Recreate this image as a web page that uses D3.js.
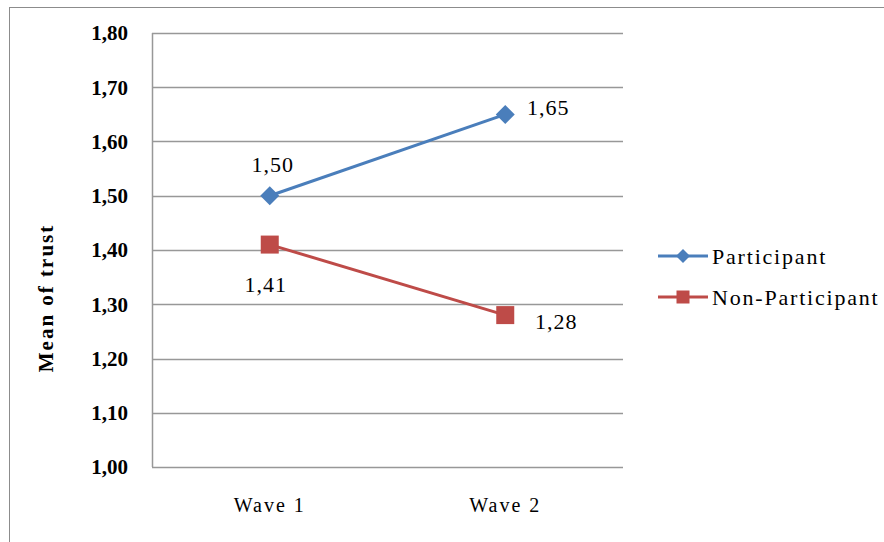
<!DOCTYPE html>
<html>
<head>
<meta charset="utf-8">
<script src="https://cdn.jsdelivr.net/npm/d3@7"></script>
<style>
  body { margin: 0; background: #fff; }
  svg { display: block; font-family: "Liberation Serif", "DejaVu Serif", serif; }
</style>
</head>
<body>
<svg id="chart" width="884" height="542"></svg>
<script>
const waves = ["Wave 1", "Wave 2"];
const participant = [1.50, 1.65];
const nonParticipant = [1.41, 1.28];
const yTicks = [1.0, 1.1, 1.2, 1.3, 1.4, 1.5, 1.6, 1.7, 1.8];

const series = [
  { name: "Participant", values: participant, color: "#4a7ebb", shape: "diamond" },
  { name: "Non-Participant", values: nonParticipant, color: "#be4b48", shape: "square" },
];

const svg = d3.select("#chart");
const fmt = (v) => d3.format(".2f")(v).replace(".", ",");

// outer frame
svg.append("rect")
  .attr("x", 9.5).attr("y", 7.5)
  .attr("width", 900).attr("height", 600)
  .attr("fill", "#fff")
  .attr("stroke", "#8c8c8c")
  .attr("stroke-width", 1);

const plot = { left: 152, right: 623, top: 33, bottom: 467 };

const x = d3.scaleBand().domain(waves).range([plot.left, plot.right]);
const y = d3.scaleLinear().domain([1.0, 1.8]).range([plot.bottom, plot.top]);

// gridlines
svg.append("g")
  .selectAll("line")
  .data(yTicks)
  .join("line")
  .attr("x1", plot.left).attr("x2", plot.right)
  .attr("y1", (d) => Math.round(y(d)) + 0.5)
  .attr("y2", (d) => Math.round(y(d)) + 0.5)
  .attr("stroke", "#989898")
  .attr("stroke-width", 1.5);

// y axis line
svg.append("line")
  .attr("x1", plot.left + 0.5).attr("x2", plot.left + 0.5)
  .attr("y1", plot.top).attr("y2", plot.bottom)
  .attr("stroke", "#989898")
  .attr("stroke-width", 1.5);

// y tick labels
svg.append("g")
  .selectAll("text")
  .data(yTicks)
  .join("text")
  .attr("x", 128)
  .attr("y", (d) => y(d))
  .attr("dy", "0.35em")
  .attr("text-anchor", "end")
  .attr("font-size", "21px")
  .attr("font-weight", "bold")
  .attr("fill", "#000")
  .text(fmt);

// x labels
svg.append("g")
  .selectAll("text")
  .data(waves)
  .join("text")
  .attr("x", (d) => x(d) + x.bandwidth() / 2)
  .attr("y", 505)
  .attr("dy", "0.35em")
  .attr("text-anchor", "middle")
  .attr("font-size", "20px")
  .attr("letter-spacing", "2px")
  .attr("fill", "#000")
  .text((d) => d);

// y axis title
svg.append("text")
  .attr("transform", "translate(46,298) rotate(-90)")
  .attr("text-anchor", "middle")
  .attr("dy", "0.35em")
  .attr("font-size", "21px")
  .attr("font-weight", "bold")
  .attr("letter-spacing", "2px")
  .text("Mean of trust");

const cx = (i) => x(waves[i]) + x.bandwidth() / 2;
const line = d3.line().x((d, i) => cx(i)).y((d) => y(d));

function marker(sel, shape, color, size) {
  if (shape === "diamond") {
    sel.append("path")
      .attr("d", `M0,${-size}L${size},0L0,${size}L${-size},0Z`)
      .attr("fill", color);
  } else {
    sel.append("rect")
      .attr("x", -size).attr("y", -size)
      .attr("width", size * 2).attr("height", size * 2)
      .attr("fill", color);
  }
}

series.forEach((s) => {
  svg.append("path")
    .datum(s.values)
    .attr("d", line)
    .attr("fill", "none")
    .attr("stroke", s.color)
    .attr("stroke-width", 3);
  s.values.forEach((v, i) => {
    const g = svg.append("g").attr("transform", `translate(${cx(i)},${y(v)})`);
    marker(g, s.shape, s.color, s.shape === "diamond" ? 9.5 : 9);
  });
});

// data labels
const labelOffsets = [
  [[3, -31], [43, -7]],
  [[-4, 40], [51, 6]],
];
series.forEach((s, si) => {
  svg.append("g")
    .selectAll("text")
    .data(s.values)
    .join("text")
    .attr("x", (d, i) => cx(i) + labelOffsets[si][i][0])
    .attr("y", (d, i) => y(d) + labelOffsets[si][i][1])
    .attr("dy", "0.35em")
    .attr("text-anchor", "middle")
    .attr("font-size", "22px")
    .attr("letter-spacing", "1px")
    .attr("fill", "#000")
    .text(fmt);
});

// legend
const legend = svg.append("g")
  .selectAll("g")
  .data(series)
  .join("g")
  .attr("transform", (d, i) => `translate(658,${256 + i * 41})`);
legend.append("line")
  .attr("x1", 0).attr("x2", 50)
  .attr("stroke", (d) => d.color)
  .attr("stroke-width", 3);
legend.each(function (d) {
  marker(d3.select(this).append("g").attr("transform", "translate(25,0)"), d.shape, d.color, d.shape === "diamond" ? 7 : 6.5);
});
legend.append("text")
  .attr("x", 54)
  .attr("dy", "0.35em")
  .attr("font-size", "22px")
  .attr("letter-spacing", "1.8px")
  .text((d) => d.name);
</script>
</body>
</html>
